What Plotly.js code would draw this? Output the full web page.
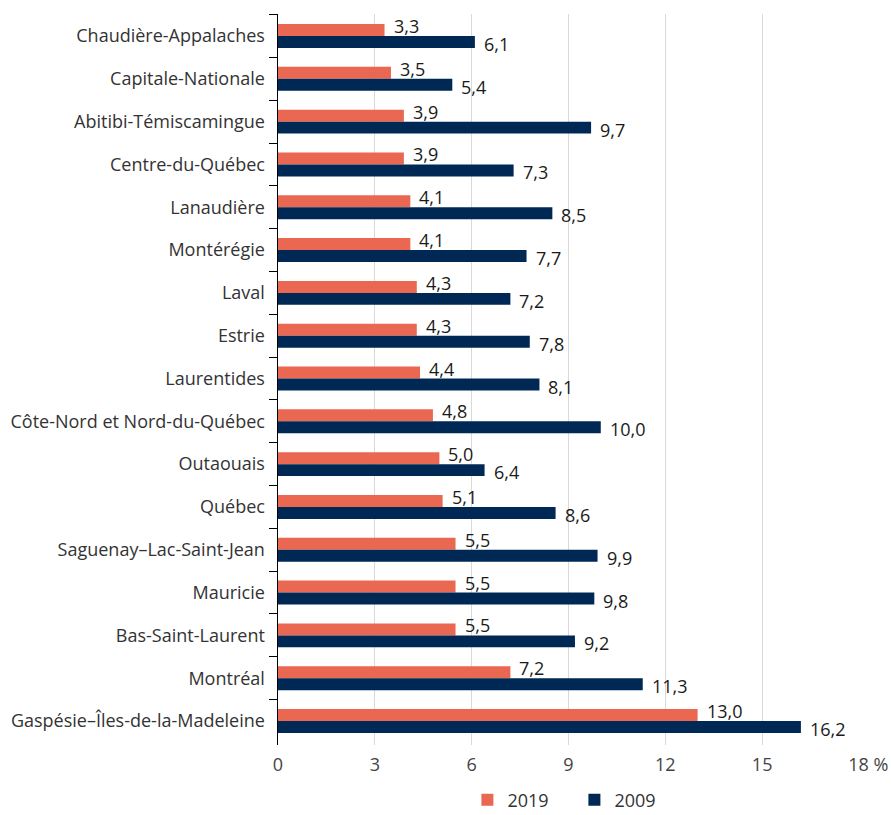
<!DOCTYPE html>
<html>
<head>
<meta charset="utf-8">
<script src="https://cdn.plot.ly/plotly-3.0.1.min.js"></script>
<style>html,body{margin:0;padding:0;background:#fff;}#chart{width:891px;height:815px;}</style>
</head>
<body>
<div id="chart"></div>
<script>
const regions = ["Chaudière-Appalaches","Capitale-Nationale","Abitibi-Témiscamingue","Centre-du-Québec","Lanaudière","Montérégie","Laval","Estrie","Laurentides","Côte-Nord et Nord-du-Québec","Outaouais","Québec","Saguenay–Lac-Saint-Jean","Mauricie","Bas-Saint-Laurent","Montréal","Gaspésie–Îles-de-la-Madeleine"];
const values2019 = [3.3,3.5,3.9,3.9,4.1,4.1,4.3,4.3,4.4,4.8,5.0,5.1,5.5,5.5,5.5,7.2,13.0];
const values2009 = [6.1,5.4,9.7,7.3,8.5,7.7,7.2,7.8,8.1,10.0,6.4,8.6,9.9,9.8,9.2,11.3,16.2];
const xTickVals = [0,3,6,9,12,15,18];
const xTickText = ["0","3","6","9","12","15","\u00A0\u00A0\u00A0\u00A018 %"];

const fmt = v => v.toFixed(1).replace('.', ',');
const annotations = [];
regions.forEach((r,i)=>{
  annotations.push({x: values2019[i], y: r, text: fmt(values2019[i]), showarrow:false, xanchor:'left', yanchor:'middle', xshift:7, yshift:10, font:{family:'Open Sans', size:18, color:'#1a1a1a'}});
  annotations.push({x: values2009[i], y: r, text: fmt(values2009[i]), showarrow:false, xanchor:'left', yanchor:'middle', xshift:7, yshift:-8, font:{family:'Open Sans', size:18, color:'#1a1a1a'}});
});

const data = [
  {type:'bar', orientation:'h', name:'2019', y:regions, x:values2019, marker:{color:'#EA6752'}, hoverinfo:'x'},
  {type:'bar', orientation:'h', name:'2009', y:regions, x:values2009, marker:{color:'#002855'}, hoverinfo:'x'}
];
const layout = {
  width:891, height:815,
  margin:{l:278, r:32, t:14, b:70, autoexpand:false},
  barmode:'group', bargap:0.44, bargroupgap:0,
  paper_bgcolor:'#fff', plot_bgcolor:'#fff',
  font:{family:'Open Sans', color:'#333'},
  xaxis:{range:[0,18], tickvals:xTickVals, ticktext:xTickText, showgrid:true, gridcolor:'#d9d9d9', gridwidth:1, zeroline:false, showline:false, ticks:'', tickfont:{size:18, color:'#444'}, ticklabelstandoff:7, fixedrange:true},
  yaxis:{autorange:'reversed', type:'category', showline:true, linecolor:'#000', linewidth:1.5, ticks:'outside', tickson:'boundaries', ticklen:8, tickcolor:'#000', tickwidth:1, tickfont:{size:18, color:'#333'}, showgrid:false, ticklabelstandoff:8},
  showlegend:true,
  legend:{orientation:'h', x:0.326, xanchor:'left', y:-0.05, yanchor:'top', font:{size:18, color:'#333'}, entrywidth:62, entrywidthmode:'pixels', traceorder:'normal'},
  annotations: annotations
};
Plotly.newPlot('chart', data, layout, {displayModeBar:false, staticPlot:true});
</script>
</body>
</html>
